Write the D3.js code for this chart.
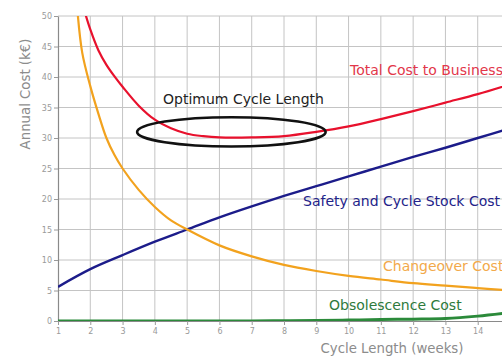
<!DOCTYPE html>
<html>
<head>
<meta charset="utf-8">
<script src="https://cdn.jsdelivr.net/npm/d3@7"></script>
<style>
  html, body { margin: 0; padding: 0; background: #fff; overflow: hidden; }
  svg { display: block; }
</style>
</head>
<body>
<svg id="chart" width="502" height="357"></svg>
<script>
// Cycle length (weeks) and annual cost (k€) series
const weeksTotal = [1.85, 2, 2.25, 2.5, 2.75, 3, 3.5, 4, 4.5, 5, 5.5, 6, 7, 8, 9, 10, 11, 12, 13, 14, 15];
const totalCost  = [50.3, 47.8, 44.4, 42, 40.1, 38.4, 35.3, 33, 31.6, 30.7, 30.3, 30.1, 30.1, 30.3, 31, 31.9, 33.1, 34.4, 35.8, 37.2, 38.8];

const weeksChangeover = [1.6, 1.75, 2, 2.25, 2.5, 2.75, 3, 3.5, 4, 4.5, 5, 6, 7, 8, 9, 10, 11, 12, 13, 14, 15];
const changeoverCost  = [51, 44, 38.5, 34, 30, 27.2, 25, 21.5, 18.7, 16.5, 15, 12.4, 10.6, 9.2, 8.2, 7.4, 6.8, 6.2, 5.8, 5.4, 5.0];

const weeks = [1, 2, 3, 4, 5, 6, 7, 8, 9, 10, 11, 12, 13, 14, 15];
const stockCost        = [5.6, 8.5, 10.8, 13, 15, 17, 18.8, 20.5, 22.1, 23.7, 25.3, 26.9, 28.4, 30, 31.6];
const obsolescenceCost = [0, 0, 0, 0, 0, 0, 0, 0.05, 0.1, 0.15, 0.25, 0.3, 0.4, 0.8, 1.4];

const xTicks = [1, 2, 3, 4, 5, 6, 7, 8, 9, 10, 11, 12, 13, 14];
const yTicks = [0, 5, 10, 15, 20, 25, 30, 35, 40, 45, 50];

// Optimum region highlighted by an ellipse (centre and half-extents in data units)
const optimum = { x: 6.37, y: 31, dx: 2.92, dy: 2.4 };

const svg = d3.select("#chart");
const mLeft = 58, mTop = 16, mBottom = 321, mRight = 510;
const font = "DejaVu Sans, sans-serif";

const x = d3.scaleLinear().domain([1, 15]).range([mLeft, mRight]);
const y = d3.scaleLinear().domain([0, 50]).range([mBottom, mTop]);

svg.append("defs").append("clipPath").attr("id", "plot")
  .append("rect").attr("x", mLeft).attr("y", mTop).attr("width", mRight - mLeft).attr("height", mBottom - mTop);

// grid
const grid = svg.append("g");
grid.selectAll("line.v").data(xTicks.slice(1)).join("line")
  .attr("x1", d => x(d)).attr("x2", d => x(d)).attr("y1", mTop).attr("y2", mBottom)
  .attr("stroke", "#c4c4c4").attr("stroke-width", 1);
grid.selectAll("line.h").data(yTicks.slice(1)).join("line")
  .attr("x1", mLeft).attr("x2", mRight).attr("y1", d => y(d)).attr("y2", d => y(d))
  .attr("stroke", "#c4c4c4").attr("stroke-width", 1);

// axes
const xAxis = svg.append("g").attr("transform", `translate(0,${mBottom})`)
  .call(d3.axisBottom(x).tickValues(xTicks).tickSize(4).tickSizeOuter(0).tickPadding(3));
const yAxis = svg.append("g").attr("transform", `translate(${mLeft},0)`)
  .call(d3.axisLeft(y).tickValues(yTicks).tickSize(4).tickSizeOuter(0).tickPadding(2));
[xAxis, yAxis].forEach(a => {
  a.select(".domain").attr("stroke", "#8a8a8a").attr("stroke-width", 1.2);
  a.selectAll(".tick line").attr("stroke", "#9a9a9a");
  a.selectAll(".tick text").attr("fill", "#9a9a9a")
    .style("font-family", font).style("font-size", "8px");
});

// axis titles
svg.append("text")
  .attr("transform", `translate(30,94) rotate(-90)`)
  .attr("text-anchor", "middle")
  .attr("fill", "#8c8c8c")
  .style("font-family", font).style("font-size", "13.3px")
  .text("Annual Cost (k€)");
svg.append("text")
  .attr("x", 392).attr("y", 353)
  .attr("text-anchor", "middle")
  .attr("fill", "#8c8c8c")
  .style("font-family", font).style("font-size", "13.3px")
  .text("Cycle Length (weeks)");

// cost curves
const plot = svg.append("g").attr("clip-path", "url(#plot)");
const line = d3.line().x(d => x(d[0])).y(d => y(d[1])).curve(d3.curveCatmullRom.alpha(0.5));

const series = [
  { xs: weeks, ys: obsolescenceCost, color: "#2b8a3a", width: 3 },
  { xs: weeks, ys: stockCost, color: "#1c1c8a", width: 2.4 },
  { xs: weeksChangeover, ys: changeoverCost, color: "#f2a21e", width: 2.2 },
  { xs: weeksTotal, ys: totalCost, color: "#e8112d", width: 2.2 }
];
series.forEach(s => {
  plot.append("path")
    .datum(s.xs.map((w, i) => [w, s.ys[i]]))
    .attr("d", line)
    .attr("fill", "none")
    .attr("stroke", s.color)
    .attr("stroke-width", s.width)
    .attr("stroke-linejoin", "round");
});

// optimum ellipse
svg.append("ellipse")
  .attr("cx", x(optimum.x)).attr("cy", y(optimum.y))
  .attr("rx", x(optimum.x + optimum.dx) - x(optimum.x))
  .attr("ry", y(optimum.y - optimum.dy) - y(optimum.y))
  .attr("fill", "none").attr("stroke", "#111").attr("stroke-width", 2.6);

// curve labels
const labels = [
  { text: "Total Cost to Business", x: 350, y: 75, color: "#e2364a" },
  { text: "Optimum Cycle Length", x: 163, y: 104, color: "#222222" },
  { text: "Safety and Cycle Stock Cost", x: 303, y: 206, color: "#23238a" },
  { text: "Changeover Cost", x: 383, y: 271, color: "#f2a94a" },
  { text: "Obsolescence Cost", x: 329, y: 310, color: "#2e7a3c" }
];
svg.selectAll("text.lbl").data(labels).join("text")
  .attr("class", "lbl")
  .attr("x", d => d.x).attr("y", d => d.y)
  .attr("fill", d => d.color)
  .style("font-family", font).style("font-size", "14px")
  .text(d => d.text);
</script>
</body>
</html>
